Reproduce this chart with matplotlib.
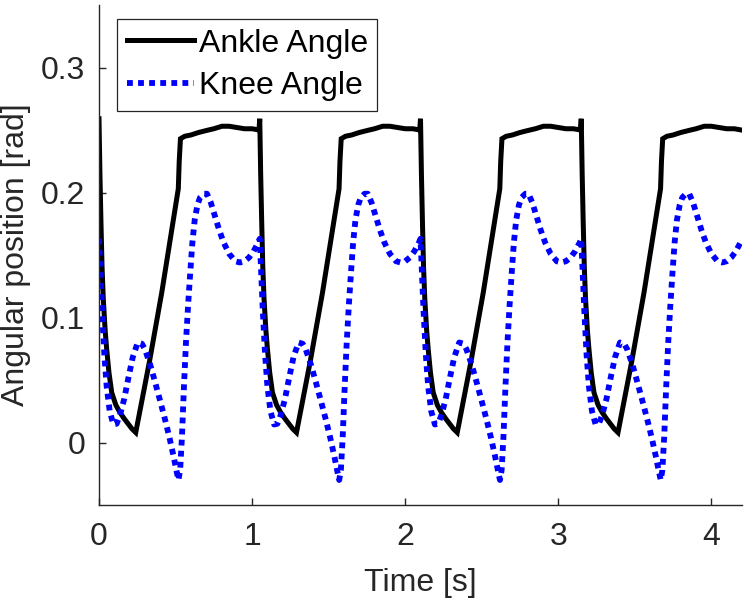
import numpy as np
import matplotlib
matplotlib.use("Agg")
import matplotlib.pyplot as plt

# ---- data (one gait cycle; repeated each period) ----
cycle_starts = [0.0, 1.05, 2.10, 3.15]

ankle_t = [0.000, 0.006, 0.013, 0.020, 0.028, 0.040, 0.050, 0.065, 0.083, 0.110,
           0.137, 0.165, 0.190, 0.215, 0.240, 0.330, 0.410, 0.518, 0.524, 0.532,
           0.560, 0.600, 0.650, 0.705, 0.750, 0.803, 0.850, 0.900, 0.950, 1.000, 1.045]
ankle_y = [0.259, 0.215, 0.175, 0.140, 0.115, 0.090, 0.075, 0.056, 0.040, 0.030,
           0.024, 0.019, 0.015, 0.011, 0.008, 0.065, 0.120, 0.203, 0.225, 0.243,
           0.245, 0.246, 0.248, 0.2497, 0.251, 0.253, 0.253, 0.252, 0.251, 0.251, 0.250]

knee_t = [0.000, 0.010, 0.020, 0.035, 0.050, 0.070, 0.094, 0.115, 0.137, 0.165,
          0.190, 0.220, 0.253, 0.280, 0.300, 0.335, 0.367, 0.400, 0.432, 0.460,
          0.487, 0.505, 0.519, 0.530, 0.542, 0.555, 0.568, 0.582, 0.596, 0.610,
          0.625, 0.643, 0.660, 0.685, 0.705, 0.730, 0.755, 0.785, 0.814, 0.850,
          0.890, 0.920, 0.950, 0.980, 1.010, 1.040]
knee_y = [0.163, 0.135, 0.105, 0.070, 0.045, 0.025, 0.0144, 0.015, 0.022, 0.035,
          0.0505, 0.068, 0.080, 0.079, 0.0746, 0.062, 0.048, 0.033, 0.018, 0.004,
          -0.011, -0.022, -0.030, -0.022, 0.005, 0.045, 0.080, 0.110, 0.136, 0.160,
          0.178, 0.190, 0.196, 0.199, 0.199, 0.192, 0.182, 0.170, 0.160, 0.151,
          0.145, 0.144, 0.145, 0.148, 0.153, 0.160]

xticks = [0, 1, 2, 3, 4]
yticks = [0, 0.1, 0.2, 0.3]
ytick_labels = ["0", "0.1", "0.2", "0.3"]

# build full series from the repeated cycle
t_ankle = np.concatenate([np.array(ankle_t) + s for s in cycle_starts])
a_ankle = np.concatenate([np.array(ankle_y) for _ in cycle_starts])
t_knee = np.concatenate([np.array(knee_t) + s for s in cycle_starts])
a_knee = np.concatenate([np.array(knee_y) for _ in cycle_starts])

plt.rcParams['font.family'] = ['Liberation Sans', 'DejaVu Sans']
FS = 23
AX = '#262626'

fig = plt.figure(figsize=(7.5, 6.05), dpi=100)
ax = fig.add_axes([99 / 750, 100 / 605, 643 / 750, 500 / 605])

ax.plot(t_ankle, a_ankle, color='black', lw=3.6, label='Ankle Angle',
        solid_joinstyle='miter')
ax.plot(t_knee, a_knee, color='#0000ff', lw=4.2, linestyle=(0, (1, 0.9)),
        dash_capstyle='butt', label='Knee Angle')

ax.set_xlim(0, 4.2)
ax.set_ylim(-0.05, 0.35)
ax.set_xticks(xticks)
ax.set_xticklabels([str(v) for v in xticks])
ax.set_yticks(yticks)
ax.set_yticklabels(ytick_labels)

for s in ['top', 'right']:
    ax.spines[s].set_visible(False)
for s in ['left', 'bottom']:
    ax.spines[s].set_color(AX)
    ax.spines[s].set_linewidth(1.0)

ax.tick_params(direction='in', length=5, width=1.0, colors=AX, labelsize=FS,
               labelcolor=AX, pad=12)
ax.tick_params(axis='y', pad=10)

ax.set_xlabel('Time [s]', fontsize=FS, color=AX, labelpad=12)
ax.set_ylabel('Angular position [rad]', fontsize=FS, color=AX, labelpad=7)

leg = ax.legend(loc='upper left', bbox_to_anchor=(0.0285, 0.972), borderaxespad=0,
                fontsize=FS, frameon=True, fancybox=False, framealpha=1,
                handlelength=2.1, handletextpad=0.15, borderpad=0.3,
                labelspacing=0.4)
leg.get_frame().set_edgecolor(AX)
leg.get_frame().set_linewidth(0.9)

fig.savefig('out.png', dpi=100)
